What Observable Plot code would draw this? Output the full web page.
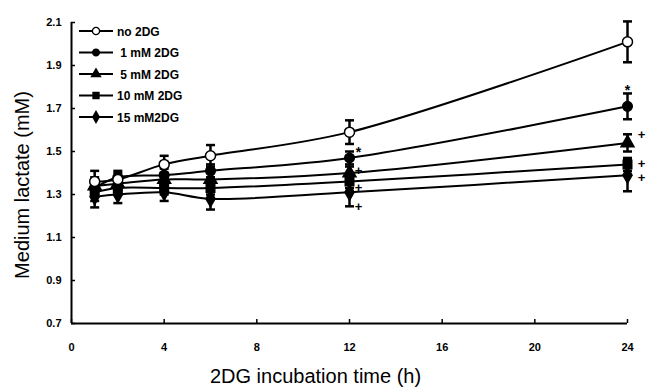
<!DOCTYPE html>
<html><head><meta charset="utf-8">
<script src="https://cdn.jsdelivr.net/npm/d3@7"></script>
<script src="https://cdn.jsdelivr.net/npm/@observablehq/plot@0.6"></script>
<style>
body{margin:0;background:#fff;}
#wrap{position:relative;width:648px;height:390px;}
#legend{position:absolute;left:0;top:0;}
</style>
</head><body><div id="wrap"></div>
<script>
const times = [1, 2, 4, 6, 12, 24];
const seriesNames = ["no 2DG", " 1 mM 2DG", " 5 mM 2DG", "10 mM 2DG", "15 mM2DG"];
const symbols = ["circle", "circle", "triangle", "square", "diamond"];
const fills = ["white", "black", "black", "black", "black"];
const noDG  = [1.36, 1.37, 1.44, 1.48, 1.59, 2.01];
const mM1   = [1.33, 1.38, 1.39, 1.41, 1.47, 1.71];
const mM5   = [1.34, 1.35, 1.37, 1.37, 1.40, 1.54];
const mM10  = [1.31, 1.33, 1.33, 1.33, 1.36, 1.44];
const mM15  = [1.29, 1.30, 1.31, 1.28, 1.31, 1.39];
const seNoDG = [0.05, 0.03, 0.04, 0.05, 0.055, 0.095];
const seMM1  = [0.04, 0.03, 0.03, 0.03, 0.03, 0.06];
const seMM5  = [0.04, 0.03, 0.03, 0.03, 0.03, 0.04];
const seMM10 = [0.04, 0.03, 0.03, 0.03, 0.03, 0.03];
const seMM15 = [0.05, 0.04, 0.04, 0.05, 0.065, 0.075];
const xTicks = [0, 4, 8, 12, 16, 20, 24];
const yTicks = [0.7, 0.9, 1.1, 1.3, 1.5, 1.7, 1.9, 2.1];
const xLabel = "2DG incubation time (h)";
const yLabel = "Medium lactate (mM)";
// significance marks: time, value, symbol
const marksT = [12, 24, 12, 24, 12, 24, 12, 24];
const marksV = [1.47, 1.71, 1.40, 1.54, 1.36, 1.44, 1.31, 1.39];
const marksS = ["*", "*", "+", "+", "+", "+", "+", "+"];
const marksDx = [9, 0, 9, 14, 9, 14, 9, 14];
const marksDy = [-5, -16, -2, -8, 6, -1, 14, 3];

const allV = [noDG, mM1, mM5, mM10, mM15];
const allSE = [seNoDG, seMM1, seMM5, seMM10, seMM15];
const data = [];
allV.forEach((vals, i) => vals.forEach((v, j) => data.push({s: i, t: times[j], v, se: allSE[i][j]})));
const notes = marksT.map((t, i) => ({t, v: marksV[i], s: marksS[i], dx: marksDx[i], dy: marksDy[i]}));

const cap = {draw(ctx, size){ const w = Math.sqrt(size / Math.PI); ctx.moveTo(-w, 0); ctx.lineTo(w, 0); }};
const font = "Liberation Sans, Arial, sans-serif";

const marks = [
  Plot.ruleY([0.7], {strokeWidth: 2}),
  Plot.ruleX([0], {strokeWidth: 2}),
  Plot.axisX({ticks: xTicks, tickSize: -4, tickPadding: 24, tickFormat: d => d, fontWeight: "bold", fontSize: 11, label: null, strokeWidth: 1.5}),
  Plot.axisY({ticks: yTicks, tickSize: -4, tickPadding: 14, tickFormat: d => d.toFixed(1), fontWeight: "bold", fontSize: 11, label: null, strokeWidth: 1.5}),
];
for (let i = 0; i < 5; i++) {
  const d = data.filter(r => r.s === i);
  marks.push(Plot.line(d, {x: "t", y: "v", curve: "catmull-rom", stroke: "black", strokeWidth: 2}));
}
for (let i = 0; i < 5; i++) {
  const d = data.filter(r => r.s === i);
  marks.push(Plot.ruleX(d, {x: "t", y1: r => r.v - r.se, y2: r => r.v + r.se, stroke: "black", strokeWidth: 2.5}));
  marks.push(Plot.dot(d, {x: "t", y: r => r.v + r.se, symbol: cap, r: 4.5, stroke: "black", strokeWidth: 2.5}));
  marks.push(Plot.dot(d, {x: "t", y: r => r.v - r.se, symbol: cap, r: 4.5, stroke: "black", strokeWidth: 2.5}));
}
for (let i = 4; i >= 0; i--) {
  const d = data.filter(r => r.s === i);
  marks.push(Plot.dot(d, {x: "t", y: "v", symbol: symbols[i], r: i === 0 ? 5 : 4.8, fill: fills[i], stroke: "black", strokeWidth: 1.5}));
}
for (const n of notes) {
  marks.push(Plot.text([n], {x: "t", y: "v", text: "s", dx: n.dx, dy: n.dy, fontSize: n.s === "*" ? 14 : 13, fontWeight: "bold"}));
}
marks.push(Plot.text([xLabel], {frameAnchor: "bottom", text: d => d, dx: -34, dy: 59, fontSize: 20}));
marks.push(Plot.text([yLabel], {frameAnchor: "left", textAnchor: "middle", text: d => d, rotate: -90, dx: -49, dy: 12, fontSize: 20}));

const chart = Plot.plot({
  width: 648, height: 390,
  marginLeft: 71, marginRight: 21, marginTop: 22, marginBottom: 67,
  x: {domain: [0, 24]},
  y: {domain: [0.7, 2.1]},
  style: {fontFamily: font, background: "white", color: "black"},
  marks
});
const wrap = document.getElementById("wrap");
wrap.appendChild(chart);

// legend
const lg = d3.select(wrap).append("svg").attr("id", "legend").attr("width", 648).attr("height", 390);
const symGen = {circle: d3.symbolCircle, triangle: d3.symbolTriangle, square: d3.symbolSquare, diamond: d3.symbolDiamond};
seriesNames.forEach((name, i) => {
  const y = 31 + i * 21.5;
  const g = lg.append("g").attr("transform", `translate(0,${y})`);
  g.append("line").attr("x1", 79).attr("x2", 113).attr("y1", 0).attr("y2", 0).attr("stroke", "black").attr("stroke-width", 2);
  const r = i === 0 ? 3.6 : 3.4;
  g.append("path").attr("d", d3.symbol(symGen[symbols[i]], r * r * Math.PI)()).attr("transform", "translate(96,0)")
    .attr("fill", fills[i]).attr("stroke", "black").attr("stroke-width", 1.3);
  g.append("text").attr("x", 117).attr("y", 4.5).attr("font-family", font).attr("font-weight", "bold").attr("font-size", 12)
    .attr("xml:space", "preserve").style("white-space", "pre").text(name);
});
</script></body></html>
